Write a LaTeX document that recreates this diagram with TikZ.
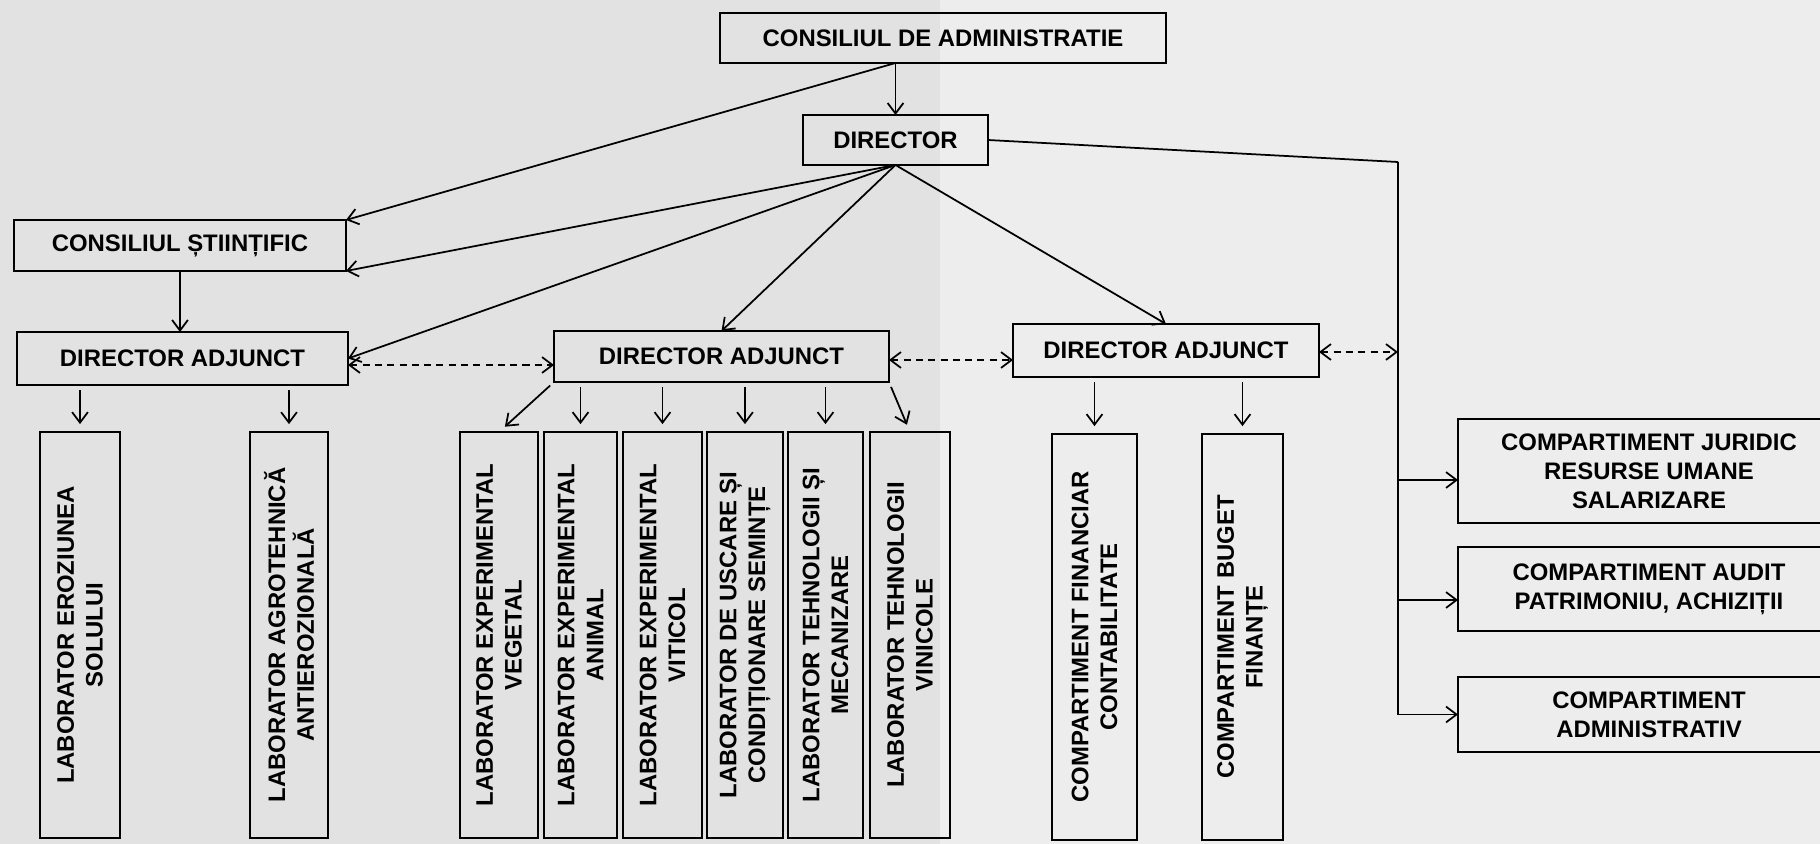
\documentclass[tikz,border=0pt]{standalone}
\usepackage{fontspec}
\setmainfont{Liberation Sans}
\usetikzlibrary{arrows.meta}
\definecolor{paperL}{RGB}{226,226,226}
\definecolor{paperR}{RGB}{237,237,237}
\begin{document}
\begin{tikzpicture}[x=0.02cm,y=-0.02cm,
    box/.style={draw,line width=1pt,inner sep=0pt,outer sep=0pt,align=center,
      font=\fontsize{13.6}{16.4}\selectfont\bfseries},
    lab/.style={box,rotate=90,minimum width=8.12cm},
    arr/.style={-{Straight Barb[length=6pt,width=9pt]},line width=1pt},
    dasharr/.style={{Straight Barb[length=6pt,width=9pt]}-{Straight Barb[length=6pt,width=9pt]},
      line width=1pt,dash pattern=on 4pt off 3pt},
    down/.style={arr,shorten <=3pt,shorten >=4.5pt}]
        %% Paper
        \useasboundingbox (0,0) rectangle (1820,844);
        \clip (0,0) rectangle (1820,844);
        \fill[paperL] (0,0) rectangle (940,844);
        \fill[paperR] (940,0) rectangle (1820,844);
        %% Management
        \node[box,minimum width=8.92cm,minimum height=1cm] (CDA) at (943,38) {CONSILIUL DE ADMINISTRATIE};
        \node[box,minimum width=3.7cm,minimum height=1cm] (DIR) at (895.5,140) {DIRECTOR};
        \node[box,minimum width=6.64cm,minimum height=1.02cm] (CS) at (180,245.5) {CONSILIUL ȘTIINȚIFIC};
        \node[box,minimum width=6.62cm,minimum height=1.06cm] (DA1) at (182.5,358.5) {DIRECTOR ADJUNCT};
        \node[box,minimum width=6.7cm,minimum height=1.02cm] (DA2) at (721.5,356.5) {DIRECTOR ADJUNCT};
        \node[box,minimum width=6.12cm,minimum height=1.06cm] (DA3) at (1166,350.5) {DIRECTOR ADJUNCT};
        %% Compartments on the right
        \node[box,minimum width=7.64cm,minimum height=2.08cm] (CJ) at (1649,471) {COMPARTIMENT JURIDIC\\RESURSE UMANE\\SALARIZARE};
        \node[box,minimum width=7.64cm,minimum height=1.68cm] (CA) at (1649,589) {COMPARTIMENT AUDIT\\PATRIMONIU, ACHIZIȚII};
        \node[box,minimum width=7.64cm,minimum height=1.5cm] (CAdm) at (1649,714.5) {COMPARTIMENT\\ADMINISTRATIV};
        %% Laboratories
        \node[lab,minimum height=1.6cm] (LEroz) at (80,635) {LABORATOR EROZIUNEA\\SOLULUI};
        \node[lab,minimum height=1.56cm] (LAgro) at (289,635) {LABORATOR AGROTEHNICĂ\\ANTIEROZIONALĂ};
        \node[lab,minimum height=1.56cm] (LVeg) at (499,635) {LABORATOR EXPERIMENTAL\\VEGETAL};
        \node[lab,minimum height=1.46cm] (LAnim) at (580.5,635) {LABORATOR EXPERIMENTAL\\ANIMAL};
        \node[lab,minimum height=1.58cm] (LVit) at (662.5,635) {LABORATOR EXPERIMENTAL\\VITICOL};
        \node[lab,minimum height=1.52cm] (LUsc) at (745,635) {LABORATOR DE USCARE ȘI\\CONDIȚIONARE SEMINȚE};
        \node[lab,minimum height=1.5cm] (LTeh) at (825.5,635) {LABORATOR TEHNOLOGII ȘI\\MECANIZARE};
        \node[lab,minimum height=1.6cm] (LVin) at (910,635) {LABORATOR TEHNOLOGII\\VINICOLE};
        \node[lab,minimum height=1.7cm] (CF) at (1094.5,637) {COMPARTIMENT FINANCIAR\\CONTABILITATE};
        \node[lab,minimum height=1.62cm] (CB) at (1242.5,637) {COMPARTIMENT BUGET\\FINANȚE};
        %% Top links
        \draw[arr] (DIR.north |- CDA.south) -- (DIR.north);
        \draw[arr] (DIR.north |- CDA.south) -- (CS.north east);
        \draw[arr] (DIR.south) -- (CS.south east);
        \draw[arr] (DIR.south) -- (DA1.east);
        \draw[arr] (DIR.south) -- (DA2.north);
        \draw[arr] (DIR.south) -- (DA3.north);
        \draw[arr] (CS.south) -- (CS.south |- DA1.north);
        %% Right branch
        \coordinate (bend) at (1398,162);
        \draw[line width=1pt] (DIR.east) -- (bend);
        \draw[arr] (bend) |- (CAdm.west);
        \draw[arr] ([yshift=-0.18cm]CJ.west -| bend) -- ([yshift=-0.18cm]CJ.west);
        \draw[arr] ([yshift=-0.22cm]CA.west -| bend) -- ([yshift=-0.22cm]CA.west);
        %% Deputies
        \draw[dasharr] ([yshift=-0.13cm]DA1.east) -- ([yshift=-0.13cm]DA1.east -| DA2.west);
        \draw[dasharr] ([yshift=-0.07cm]DA2.east) -- ([yshift=-0.07cm]DA2.east -| DA3.west);
        \draw[dasharr] ([yshift=-0.03cm]DA3.east) -- ([yshift=-0.03cm]DA3.east -| bend);
        %% Down to laboratories
        \draw[down] (LEroz.east |- DA1.south) -- (LEroz.east);
        \draw[down] (LAgro.east |- DA1.south) -- (LAgro.east);
        \draw[down] (DA2.south west) -- (LVeg.east);
        \draw[down] (LAnim.east |- DA2.south) -- (LAnim.east);
        \draw[down] (LVit.east |- DA2.south) -- (LVit.east);
        \draw[down] (LUsc.east |- DA2.south) -- (LUsc.east);
        \draw[down] (LTeh.east |- DA2.south) -- (LTeh.east);
        \draw[down] (DA2.south east) -- (LVin.east);
        \draw[down] (CF.east |- DA3.south) -- (CF.east);
        \draw[down] (CB.east |- DA3.south) -- (CB.east);
    \end{tikzpicture}
\end{document}
